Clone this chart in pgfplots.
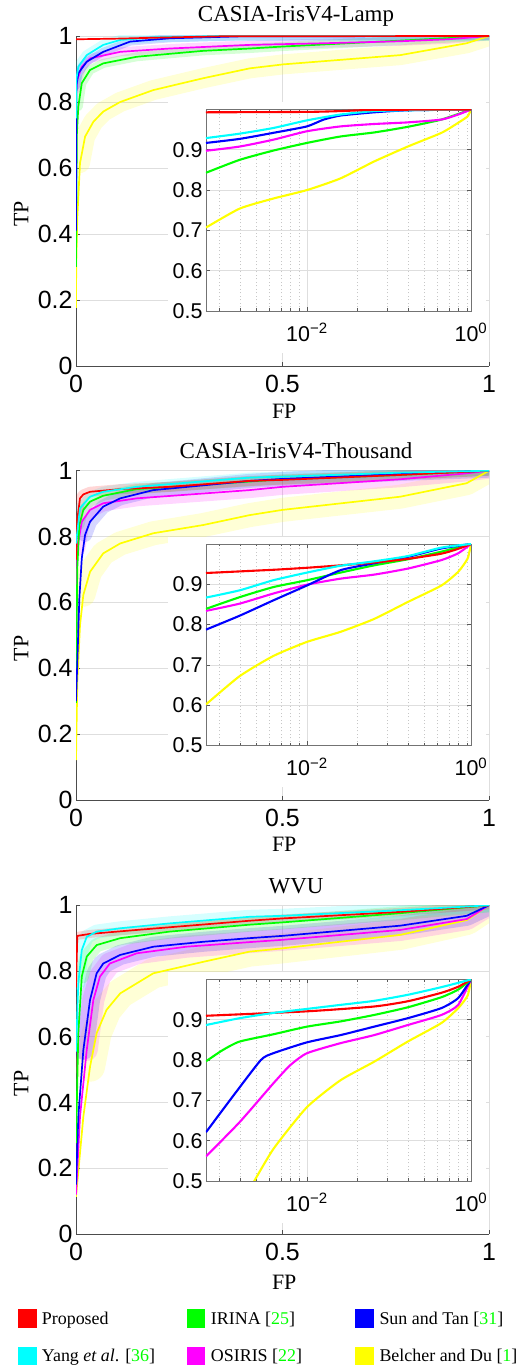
\documentclass[border=0pt]{standalone}
\usepackage{fontspec}
\setmainfont{Liberation Serif}
\newfontfamily\tickfont{Liberation Sans}
\usepackage{pgfplots}
\usepackage{pgfplotstable}
\pgfplotsset{compat=1.18}
\definecolor{cite}{rgb}{0,1,0}
\definecolor{cgreen}{rgb}{0,1,0}
\definecolor{cred}{rgb}{1,0,0}
\definecolor{cblue}{rgb}{0,0,1}
\definecolor{ccyan}{rgb}{0,1,1}
\definecolor{cmag}{rgb}{1,0,1}
\definecolor{cyel}{rgb}{1,1,0}

\pgfplotsset{
 mainax/.style={
  scale only axis, width=413bp,
  xmin=0,xmax=1,ymin=0,ymax=1,
  axis x line*=bottom, axis y line*=left,
  axis line style={-,draw=black!70,line width=0.7bp},
  xtick={0,0.5,1}, xticklabels={0,0.5,1},
  ytick={0,0.2,0.4,0.6,0.8,1}, yticklabels={0,0.2,0.4,0.6,0.8,1},
  tick align=inside, major tick length=4bp,
  tick style={draw=black!70,line width=0.7bp},
  grid=major, major grid style={draw=black!13,line width=0.6bp},
  /pgf/number format/assume math mode=true,
  tick label style={font=\tickfont\fontsize{25}{25}\selectfont},
  xticklabel style={yshift=-6bp},
 },
 inax/.style={
  scale only axis, width=265bp, height=201.5bp,
  xmin=0.0025119, xmax=0.094624, ymin=0.5, ymax=1,
  xtick={0.01,0.094624}, xticklabels={10\textsuperscript{−2},10\textsuperscript{0}},
  minor xtick={0.003,0.004,0.005,0.006,0.007,0.008,0.009,0.02,0.03,0.04,0.05,0.06,0.07,0.08,0.09},
  ytick={0.5,0.6,0.7,0.8,0.9}, yticklabels={0.5,0.6,0.7,0.8,0.9},
  axis line style={draw=black!55,line width=0.8bp},
  tick align=inside, major tick length=4bp, minor tick length=2.5bp,
  tick style={draw=black!65,line width=0.6bp},
  xmajorgrids, ymajorgrids, xminorgrids,
  major grid style={draw=black!13,line width=0.6bp},
  minor grid style={draw=black!22,line width=0.5bp,dash pattern=on 1bp off 2.5bp},
  /pgf/number format/assume math mode=true,
  tick label style={font=\tickfont\fontsize{21.5}{21.5}\selectfont},
  xticklabel style={yshift=-9bp},
 },
 ln/.style={line width=1.7bp, line join=round},
 iln/.style={line width=2.1bp, line join=round, smooth, tension=0.35},
 bd/.style 2 args={line width=#1, opacity=0.16, line join=round, line cap=round, restrict y to domain=#2:2},
}

% ---------- Panel A (CASIA-IrisV4-Lamp) main ----------
\pgfplotstableread[row sep=\\]{x y\\ 0 0.990\\ 0.1 0.992\\ 0.2 0.995\\ 0.35 0.999\\ 1 1\\}\pAred
\pgfplotstableread[row sep=\\]{x y\\ 0 0.75\\ 0.001 0.87\\ 0.0056 0.907\\ 0.026 0.942\\ 0.066 0.973\\ 0.107 0.988\\ 0.19 0.996\\ 0.35 1.0\\ 1 1\\}\pAcya
\pgfplotstableread[row sep=\\]{x y\\ 0 0.41\\ 0.001 0.85\\ 0.0056 0.887\\ 0.026 0.922\\ 0.066 0.952\\ 0.131 0.983\\ 0.227 0.993\\ 0.4 0.999\\ 1 1\\}\pAblu
\pgfplotstableread[row sep=\\]{x y\\ 0 0.65\\ 0.001 0.84\\ 0.0032 0.867\\ 0.014 0.907\\ 0.034 0.932\\ 0.107 0.952\\ 0.227 0.962\\ 0.42 0.973\\ 0.6 0.978\\ 0.785 0.984\\ 0.9 0.99\\ 1 1\\}\pAmag
\pgfplotstableread[row sep=\\]{x y\\ 0 0.30\\ 0.002 0.70\\ 0.0056 0.786\\ 0.014 0.857\\ 0.034 0.897\\ 0.066 0.917\\ 0.147 0.937\\ 0.308 0.955\\ 0.42 0.962\\ 0.5 0.968\\ 0.785 0.986\\ 1 1\\}\pAgrn
\pgfplotstableread[row sep=\\]{x y\\ 0 0.176\\ 0.0005 0.30\\ 0.0032 0.45\\ 0.0097 0.615\\ 0.022 0.695\\ 0.042 0.74\\ 0.066 0.771\\ 0.107 0.80\\ 0.187 0.836\\ 0.308 0.872\\ 0.421 0.902\\ 0.502 0.914\\ 0.785 0.942\\ 0.946 0.978\\ 1 1\\}\pAyel
% ---------- Panel A inset ----------
\pgfplotstableread[row sep=\\]{x y\\ 0.0025119 0.993\\ 0.01 0.994\\ 0.015849 0.996\\ 0.025119 0.999\\ 0.094624 1.0\\}\iAred
\pgfplotstableread[row sep=\\]{x y\\ 0.0025119 0.929\\ 0.0039811 0.940\\ 0.0063096 0.954\\ 0.01 0.973\\ 0.015849 0.9875\\ 0.025119 0.996\\ 0.039811 0.998\\ 0.094624 1.0\\}\iAcya
\pgfplotstableread[row sep=\\]{x y\\ 0.0025119 0.917\\ 0.0039811 0.927\\ 0.0063096 0.942\\ 0.01 0.958\\ 0.012589 0.975\\ 0.015849 0.985\\ 0.025119 0.993\\ 0.039811 0.998\\ 0.094624 1.0\\}\iAblu
\pgfplotstableread[row sep=\\]{x y\\ 0.0025119 0.8975\\ 0.0039811 0.908\\ 0.0063096 0.925\\ 0.01 0.946\\ 0.015849 0.958\\ 0.025119 0.964\\ 0.039811 0.968\\ 0.063096 0.975\\ 0.079433 0.9875\\ 0.094624 1.0\\}\iAmag
\pgfplotstableread[row sep=\\]{x y\\ 0.0025119 0.843\\ 0.0039811 0.875\\ 0.0063096 0.898\\ 0.01 0.917\\ 0.015849 0.933\\ 0.025119 0.943\\ 0.039811 0.957\\ 0.063096 0.975\\ 0.094624 1.0\\}\iAgrn
\pgfplotstableread[row sep=\\]{x y\\ 0.0025119 0.707\\ 0.0039811 0.754\\ 0.0063096 0.779\\ 0.01 0.800\\ 0.015849 0.829\\ 0.025119 0.871\\ 0.039811 0.908\\ 0.063096 0.942\\ 0.079433 0.967\\ 0.090365 0.983\\ 0.094624 1.0\\}\iAyel

% ---------- Panel B (CASIA-IrisV4-Thousand) main ----------
\pgfplotstableread[row sep=\\]{x y\\ 0 0.73\\ 0.003 0.85\\ 0.0097 0.916\\ 0.0178 0.928\\ 0.034 0.936\\ 0.107 0.944\\ 0.227 0.951\\ 0.42 0.969\\ 0.5 0.972\\ 0.785 0.987\\ 1 1\\}\pBred
\pgfplotstableread[row sep=\\]{x y\\ 0 0.779\\ 0.0097 0.886\\ 0.034 0.921\\ 0.066 0.936\\ 0.147 0.951\\ 0.42 0.979\\ 0.5 0.982\\ 0.785 0.994\\ 1 1\\}\pBcya
\pgfplotstableread[row sep=\\]{x y\\ 0 0.295\\ 0.003 0.70\\ 0.0081 0.835\\ 0.0178 0.881\\ 0.034 0.906\\ 0.066 0.924\\ 0.147 0.944\\ 0.42 0.967\\ 0.5 0.974\\ 0.785 0.987\\ 1 1\\}\pBgrn
\pgfplotstableread[row sep=\\]{x y\\ 0 0.395\\ 0.0032 0.764\\ 0.014 0.845\\ 0.034 0.881\\ 0.066 0.901\\ 0.147 0.916\\ 0.42 0.941\\ 0.5 0.951\\ 0.785 0.974\\ 0.946 0.992\\ 1 1\\}\pBmag
\pgfplotstableread[row sep=\\]{x y\\ 0 0.30\\ 0.004 0.45\\ 0.0081 0.612\\ 0.014 0.734\\ 0.022 0.805\\ 0.034 0.845\\ 0.066 0.891\\ 0.107 0.916\\ 0.187 0.941\\ 0.42 0.969\\ 0.5 0.975\\ 0.785 0.99\\ 1 1\\}\pBblu
\pgfplotstableread[row sep=\\]{x y\\ 0 0.121\\ 0.0032 0.359\\ 0.0097 0.531\\ 0.0178 0.623\\ 0.034 0.693\\ 0.066 0.749\\ 0.107 0.779\\ 0.187 0.81\\ 0.308 0.835\\ 0.42 0.865\\ 0.5 0.881\\ 0.785 0.921\\ 0.946 0.962\\ 1 1\\}\pByel
% ---------- Panel B inset ----------
\pgfplotstableread[row sep=\\]{x y\\ 0.0025119 0.928\\ 0.0063096 0.936\\ 0.01 0.941\\ 0.015849 0.947\\ 0.025119 0.954\\ 0.039811 0.963\\ 0.063096 0.976\\ 0.079433 0.988\\ 0.094624 1.0\\}\iBred
\pgfplotstableread[row sep=\\]{x y\\ 0.0025119 0.867\\ 0.0039811 0.885\\ 0.0063096 0.910\\ 0.01 0.929\\ 0.015849 0.946\\ 0.025119 0.957\\ 0.039811 0.970\\ 0.063096 0.991\\ 0.094624 1.0\\}\iBcya
\pgfplotstableread[row sep=\\]{x y\\ 0.0025119 0.839\\ 0.0039811 0.868\\ 0.0063096 0.893\\ 0.01 0.910\\ 0.015849 0.929\\ 0.025119 0.947\\ 0.039811 0.962\\ 0.063096 0.981\\ 0.094624 1.0\\}\iBgrn
\pgfplotstableread[row sep=\\]{x y\\ 0.0025119 0.834\\ 0.0039811 0.852\\ 0.0063096 0.877\\ 0.01 0.899\\ 0.015849 0.914\\ 0.025119 0.924\\ 0.039811 0.939\\ 0.063096 0.960\\ 0.079433 0.977\\ 0.094624 1.0\\}\iBmag
\pgfplotstableread[row sep=\\]{x y\\ 0.0025119 0.7875\\ 0.0039811 0.822\\ 0.0063096 0.860\\ 0.01 0.897\\ 0.015849 0.935\\ 0.025119 0.952\\ 0.039811 0.968\\ 0.063096 0.989\\ 0.094624 1.0\\}\iBblu
\pgfplotstableread[row sep=\\]{x y\\ 0.0025119 0.602\\ 0.0039811 0.672\\ 0.0063096 0.722\\ 0.01 0.757\\ 0.015849 0.782\\ 0.025119 0.814\\ 0.039811 0.856\\ 0.063096 0.897\\ 0.079433 0.931\\ 0.090365 0.964\\ 0.094624 1.0\\}\iByel

% ---------- Panel C (WVU) main ----------
\pgfplotstableread[row sep=\\]{x y\\ 0 0.75\\ 0.0032 0.907\\ 0.034 0.913\\ 0.147 0.925\\ 0.42 0.953\\ 0.5 0.960\\ 0.785 0.980\\ 1 1\\}\pCred
\pgfplotstableread[row sep=\\]{x y\\ 0 0.555\\ 0.0056 0.763\\ 0.014 0.864\\ 0.026 0.904\\ 0.05 0.92\\ 0.107 0.93\\ 0.227 0.945\\ 0.42 0.965\\ 0.5 0.968\\ 0.785 0.985\\ 1 1\\}\pCcya
\pgfplotstableread[row sep=\\]{x y\\ 0 0.277\\ 0.0056 0.611\\ 0.014 0.783\\ 0.026 0.844\\ 0.05 0.879\\ 0.107 0.90\\ 0.227 0.92\\ 0.42 0.941\\ 0.5 0.948\\ 0.785 0.976\\ 1 1\\}\pCgrn
\pgfplotstableread[row sep=\\]{x y\\ 0 0.15\\ 0.0056 0.357\\ 0.0178 0.56\\ 0.034 0.712\\ 0.05 0.793\\ 0.066 0.823\\ 0.107 0.849\\ 0.187 0.874\\ 0.308 0.889\\ 0.42 0.90\\ 0.5 0.907\\ 0.785 0.938\\ 0.946 0.968\\ 1 1\\}\pCblu
\pgfplotstableread[row sep=\\]{x y\\ 0 0.12\\ 0.0097 0.357\\ 0.026 0.56\\ 0.042 0.712\\ 0.058 0.783\\ 0.082 0.823\\ 0.147 0.854\\ 0.267 0.874\\ 0.42 0.888\\ 0.5 0.895\\ 0.785 0.925\\ 0.946 0.958\\ 1 1\\}\pCmag
\pgfplotstableread[row sep=\\]{x y\\ 0 0.113\\ 0.0178 0.357\\ 0.034 0.509\\ 0.05 0.611\\ 0.074 0.682\\ 0.107 0.732\\ 0.187 0.793\\ 0.308 0.828\\ 0.42 0.859\\ 0.5 0.869\\ 0.785 0.91\\ 0.946 0.955\\ 1 1\\}\pCyel
% ---------- Panel C inset ----------
\pgfplotstableread[row sep=\\]{x y\\ 0.0025119 0.910\\ 0.01 0.921\\ 0.025119 0.933\\ 0.039811 0.946\\ 0.063096 0.967\\ 0.079433 0.982\\ 0.094624 1.0\\}\iCred
\pgfplotstableread[row sep=\\]{x y\\ 0.0025119 0.887\\ 0.0039811 0.904\\ 0.0063096 0.917\\ 0.01 0.927\\ 0.015849 0.937\\ 0.025119 0.947\\ 0.039811 0.962\\ 0.063096 0.981\\ 0.094624 1.0\\}\iCcya
\pgfplotstableread[row sep=\\]{x y\\ 0.0025119 0.797\\ 0.0031623 0.825\\ 0.0039811 0.846\\ 0.0063096 0.864\\ 0.01 0.883\\ 0.015849 0.896\\ 0.025119 0.912\\ 0.039811 0.931\\ 0.063096 0.956\\ 0.079433 0.975\\ 0.094624 1.0\\}\iCgrn
\pgfplotstableread[row sep=\\]{x y\\ 0.0025119 0.621\\ 0.0035975 0.708\\ 0.0053211 0.800\\ 0.0063096 0.817\\ 0.01 0.844\\ 0.015849 0.862\\ 0.025119 0.883\\ 0.039811 0.904\\ 0.063096 0.929\\ 0.079433 0.954\\ 0.094624 1.0\\}\iCblu
\pgfplotstableread[row sep=\\]{x y\\ 0.0025119 0.561\\ 0.0039811 0.646\\ 0.0063096 0.742\\ 0.0079433 0.787\\ 0.01 0.817\\ 0.015849 0.842\\ 0.025119 0.862\\ 0.039811 0.887\\ 0.063096 0.912\\ 0.079433 0.937\\ 0.094624 1.0\\}\iCmag
\pgfplotstableread[row sep=\\]{x y\\ 0.0045709 0.48\\ 0.0063096 0.579\\ 0.01 0.683\\ 0.015849 0.750\\ 0.025119 0.796\\ 0.039811 0.846\\ 0.063096 0.892\\ 0.079433 0.929\\ 0.090365 0.960\\ 0.094624 1.0\\}\iCyel

\begin{document}
\begin{tikzpicture}
\useasboundingbox (0,0) rectangle (527bp,1369bp);

% ================= Panel A =================
\begin{axis}[mainax, height=330bp, at={(76bp,1003bp)}, anchor=south west]
\addplot[bd={20bp}{0.6}, cyel] table {\pAyel};
\addplot[bd={9bp}{0.8}, cmag] table {\pAmag};
\addplot[bd={9bp}{0.75}, cgreen] table {\pAgrn};
\addplot[bd={8bp}{0.8}, cblue] table {\pAblu};
\addplot[bd={10bp}{0.8}, ccyan] table {\pAcya};
\addplot[ln, cyel] table {\pAyel};
\addplot[ln, cgreen] table {\pAgrn};
\addplot[ln, cmag] table {\pAmag};
\addplot[ln, cblue] table {\pAblu};
\addplot[ln, ccyan] table {\pAcya};
\addplot[ln, cred] table {\pAred};
\end{axis}
\fill[white] (168bp,1016bp) rectangle (486bp,1266.5bp);
\begin{semilogxaxis}[inax, at={(206bp,1058bp)}, anchor=south west]
\addplot[iln, cyel] table {\iAyel};
\addplot[iln, cgreen] table {\iAgrn};
\addplot[iln, cmag] table {\iAmag};
\addplot[iln, cblue] table {\iAblu};
\addplot[iln, ccyan] table {\iAcya};
\addplot[iln, cred] table {\iAred};
\end{semilogxaxis}
\node[anchor=base, font=\fontsize{23}{23}\selectfont] at (296bp,1347.3bp) {CASIA-IrisV4-Lamp};
\node[anchor=base, rotate=90, font=\fontsize{22}{22}\selectfont] at (28.3bp,1154.8bp) {TP};
\node[anchor=base, font=\fontsize{22}{22}\selectfont] at (284.2bp,950.7bp) {FP};

% ================= Panel B =================
\begin{axis}[mainax, height=329.3bp, at={(76bp,569bp)}, anchor=south west]
\addplot[bd={24bp}{0.55}, cyel] table {\pByel};
\addplot[bd={16bp}{0.75}, cmag] table {\pBmag};
\addplot[bd={14bp}{0.75}, cblue] table {\pBblu};
\addplot[bd={10bp}{0.8}, cgreen] table {\pBgrn};
\addplot[bd={10bp}{0.8}, ccyan] table {\pBcya};
\addplot[bd={10bp}{0.85}, cred] table {\pBred};
\addplot[ln, cyel] table {\pByel};
\addplot[ln, cmag] table {\pBmag};
\addplot[ln, cgreen] table {\pBgrn};
\addplot[ln, cblue] table {\pBblu};
\addplot[ln, cred] table {\pBred};
\addplot[ln, ccyan] table {\pBcya};
\end{axis}
\fill[white] (168bp,581.5bp) rectangle (486bp,832bp);
\begin{semilogxaxis}[inax, at={(206bp,623.5bp)}, anchor=south west]
\addplot[iln, cyel] table {\iByel};
\addplot[iln, cmag] table {\iBmag};
\addplot[iln, cgreen] table {\iBgrn};
\addplot[iln, cblue] table {\iBblu};
\addplot[iln, cred] table {\iBred};
\addplot[iln, ccyan] table {\iBcya};
\end{semilogxaxis}
\node[anchor=base, font=\fontsize{23}{23}\selectfont] at (296bp,910.7bp) {CASIA-IrisV4-Thousand};
\node[anchor=base, rotate=90, font=\fontsize{22}{22}\selectfont] at (28.3bp,720.7bp) {TP};
\node[anchor=base, font=\fontsize{22}{22}\selectfont] at (284.2bp,517.3bp) {FP};

% ================= Panel C =================
\begin{axis}[mainax, height=328.7bp, at={(76bp,135bp)}, anchor=south west]
\addplot[bd={30bp}{0.45}, cyel] table {\pCyel};
\addplot[bd={22bp}{0.5}, cmag] table {\pCmag};
\addplot[bd={20bp}{0.5}, cblue] table {\pCblu};
\addplot[bd={14bp}{0.65}, cgreen] table {\pCgrn};
\addplot[bd={14bp}{0.7}, ccyan] table {\pCcya};
\addplot[bd={8bp}{0.85}, cred] table {\pCred};
\addplot[ln, cyel] table {\pCyel};
\addplot[ln, cmag] table {\pCmag};
\addplot[ln, cblue] table {\pCblu};
\addplot[ln, cgreen] table {\pCgrn};
\addplot[ln, cred] table {\pCred};
\addplot[ln, ccyan] table {\pCcya};
\end{axis}
\fill[white] (168bp,146bp) rectangle (486bp,396.5bp);
\begin{semilogxaxis}[inax, at={(206bp,188bp)}, anchor=south west]
\addplot[iln, cyel] table {\iCyel};
\addplot[iln, cmag] table {\iCmag};
\addplot[iln, cblue] table {\iCblu};
\addplot[iln, cgreen] table {\iCgrn};
\addplot[iln, cred] table {\iCred};
\addplot[iln, ccyan] table {\iCcya};
\end{semilogxaxis}
\node[anchor=base, font=\fontsize{23}{23}\selectfont] at (296bp,475.7bp) {WVU};
\node[anchor=base, rotate=90, font=\fontsize{22}{22}\selectfont] at (28.3bp,285.7bp) {TP};
\node[anchor=base, font=\fontsize{22}{22}\selectfont] at (284.2bp,79bp) {FP};

% ================= Legend =================
\begin{scope}[every node/.style={anchor=base west, inner sep=0pt, font=\fontsize{18}{18}\selectfont}]
\fill[cred]   (18.3bp,41.3bp) rectangle (36.7bp,59.7bp);
\node at (41.7bp,44bp) {Proposed};
\fill[cgreen] (186.5bp,41.3bp) rectangle (205bp,59.7bp);
\node at (210.7bp,44bp) {IRINA [\textcolor{cite}{25}]};
\fill[cblue]  (355.3bp,41.3bp) rectangle (374bp,59.7bp);
\node at (379.3bp,44bp) {Sun and Tan [\textcolor{cite}{31}]};
\fill[ccyan]  (18.3bp,4bp) rectangle (36.7bp,22.3bp);
\node at (41.7bp,7.3bp) {Yang \textit{et al}. [\textcolor{cite}{36}]};
\fill[cmag]   (186.5bp,4bp) rectangle (205bp,22.3bp);
\node at (210.7bp,7.3bp) {OSIRIS [\textcolor{cite}{22}]};
\fill[cyel]   (355.3bp,4bp) rectangle (374bp,22.3bp);
\node at (379.3bp,7.3bp) {Belcher and Du [\textcolor{cite}{1}]};
\end{scope}
\end{tikzpicture}
\end{document}
